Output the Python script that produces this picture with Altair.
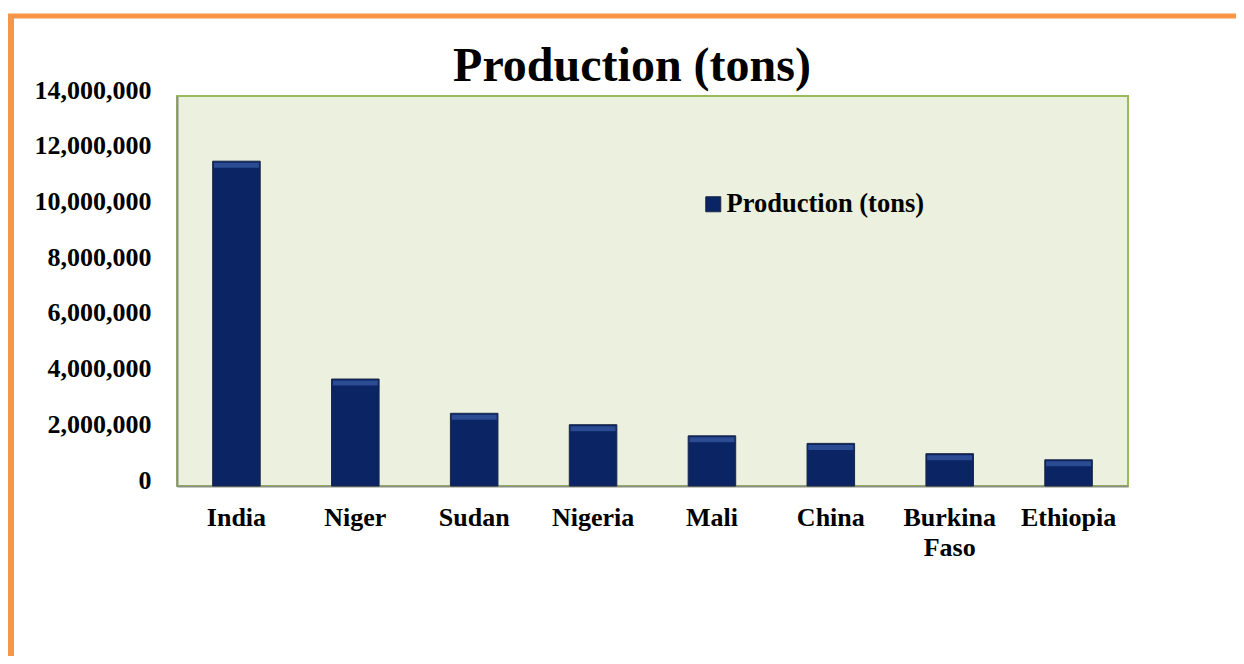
import altair as alt
import pandas as pd

countries = ["India", "Niger", "Sudan", "Nigeria", "Mali", "China", "Burkina Faso", "Ethiopia"]
production = [11660000, 3840000, 2610000, 2200000, 1800000, 1530000, 1160000, 940000]
series_name = "Production (tons)"
y_ticks = [0, 2000000, 4000000, 6000000, 8000000, 10000000, 12000000, 14000000]

df = pd.DataFrame({"country": countries, "production": production, "series": [series_name] * len(countries)})
one = pd.DataFrame({"t": [series_name]})

FONT = "Liberation Serif"
NAVY = "#0B2463"
W, H = 951, 390

x_enc = alt.X("country:N", sort=countries, title=None,
              scale=alt.Scale(paddingInner=0.6, paddingOuter=0.3),
              axis=alt.Axis(labelAngle=0, ticks=False, labelPadding=18,
                            labelLineHeight=30,
                            labelExpr="datum.label == 'Burkina Faso' ? ['Burkina', 'Faso'] : datum.label"))
y_enc = alt.Y("production:Q", title=None,
              scale=alt.Scale(domain=[0, 14000000], nice=False),
              axis=alt.Axis(values=y_ticks, format=",d", grid=False, ticks=False, labelPadding=26,
                            labelOffset=-6, labelBaseline="middle"))

bars = alt.Chart(df).mark_bar(stroke="#1B2748", strokeWidth=1).encode(
    x=x_enc, y=y_enc,
    color=alt.Color("series:N", scale=alt.Scale(domain=[series_name], range=[NAVY]),
                    legend=alt.Legend(title=None, orient="none", legendX=523, legendY=95,
                                      symbolType="square", symbolSize=225,
                                      symbolStrokeColor="#1B2748", symbolStrokeWidth=1,
                                      labelFont=FONT, labelFontSize=26.5, labelFontWeight="bold",
                                      labelColor="black", labelOffset=0, labelLimit=400)),
)

bevel = alt.Chart(df).mark_tick(color="#2F5098", thickness=5, size=45, yOffset=4, opacity=0.9).encode(
    x=x_enc, y=y_enc
)

title = alt.Chart(one).mark_text(font=FONT, fontSize=48, fontWeight="bold", color="black",
                                 align="center", baseline="alphabetic").encode(
    x=alt.value(455), y=alt.value(-15), text="t:N"
)

top_rule = alt.Chart(one).mark_rule(color="#F79646", strokeWidth=5).encode(
    x=alt.value(-169), x2=alt.value(1070), y=alt.value(-80)
)
left_rule = alt.Chart(one).mark_rule(color="#F79646", strokeWidth=6).encode(
    x=alt.value(-166), y=alt.value(-82), y2=alt.value(570)
)

chart = alt.layer(bars, bevel, title, top_rule, left_rule).properties(
    width=W, height=H,
    padding={"left": 169, "top": 88, "right": 108, "bottom": 170},
    autosize=alt.AutoSizeParams(type="none"),
    background="white",
).configure_view(
    fill="#EBF1DE", stroke="#9BBB59", strokeWidth=2
).configure_axis(
    labelFont=FONT, labelFontSize=26, labelFontWeight="bold", labelColor="black",
    domainColor="#8A9180", domainWidth=2
)

chart.save("out.html", embed_options={"renderer": "svg", "actions": False})
